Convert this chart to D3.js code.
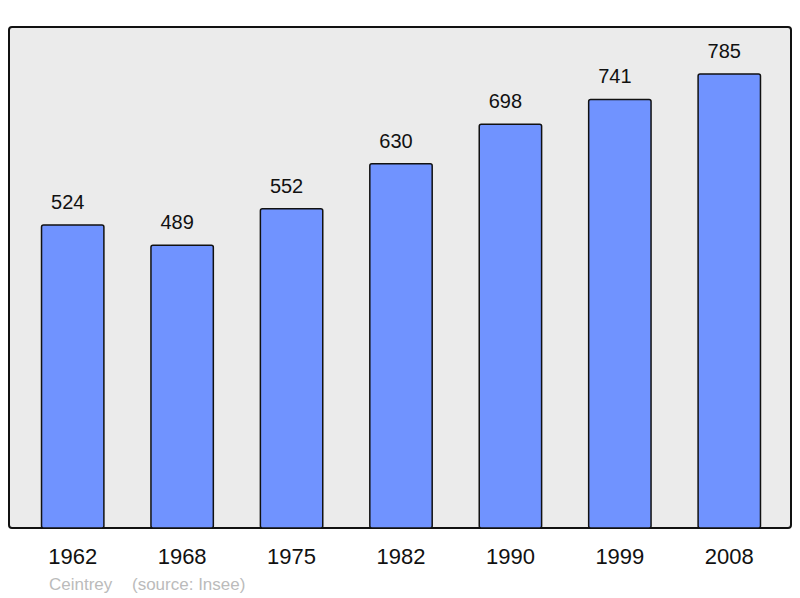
<!DOCTYPE html>
<html><head><meta charset="utf-8">
<script src="https://cdn.jsdelivr.net/npm/d3@7"></script>
<style>body{margin:0;background:#fff}svg{display:block}</style>
</head><body>
<script>
const years = ["1962","1968","1975","1982","1990","1999","2008"];
const population = [524,489,552,630,698,741,785];
const town = "Ceintrey";
const source = "(source: Insee)";

const W=800,H=598;
const svg=d3.select("body").append("svg").attr("width",W).attr("height",H);
const panel={x:9,y:27,w:782,h:501};
svg.append("rect").attr("x",panel.x).attr("y",panel.y).attr("width",panel.w).attr("height",panel.h)
  .attr("rx",3).attr("fill","#ebebeb").attr("stroke","#111").attr("stroke-width",2);

const x=d3.scaleBand().domain(years).range([18,784]).paddingInner(0.43).paddingOuter(0.215);
const y=d3.scaleLinear().domain([0,868]).range([528,26]);

svg.selectAll("rect.bar").data(population).enter().append("rect").attr("class","bar")
  .attr("x",(d,i)=>x(years[i])).attr("y",d=>y(d)).attr("width",x.bandwidth()).attr("height",d=>y(0)-y(d))
  .attr("rx",2).attr("fill","#7093ff").attr("stroke","#111").attr("stroke-width",1.5);

svg.selectAll("text.val").data(population).enter().append("text").attr("class","val")
  .attr("x",(d,i)=>x(years[i])+x.bandwidth()/2-5).attr("y",d=>y(d)-16)
  .attr("text-anchor","middle").attr("font-family","Liberation Sans, Arial, sans-serif").attr("font-size",20)
  .attr("fill","#111").text(d=>d);

svg.selectAll("text.yr").data(years).enter().append("text").attr("class","yr")
  .attr("x",d=>x(d)+x.bandwidth()/2).attr("y",564)
  .attr("text-anchor","middle").attr("font-family","Liberation Sans, Arial, sans-serif").attr("font-size",22)
  .attr("fill","#111").text(d=>d);

svg.append("text").attr("x",49).attr("y",590).attr("font-family","Liberation Sans, Arial, sans-serif")
  .attr("font-size",17).attr("fill","#bbb").text(town);
svg.append("text").attr("x",132).attr("y",590).attr("font-family","Liberation Sans, Arial, sans-serif")
  .attr("font-size",17).attr("fill","#bbb").text(source);
</script>
</body></html>
